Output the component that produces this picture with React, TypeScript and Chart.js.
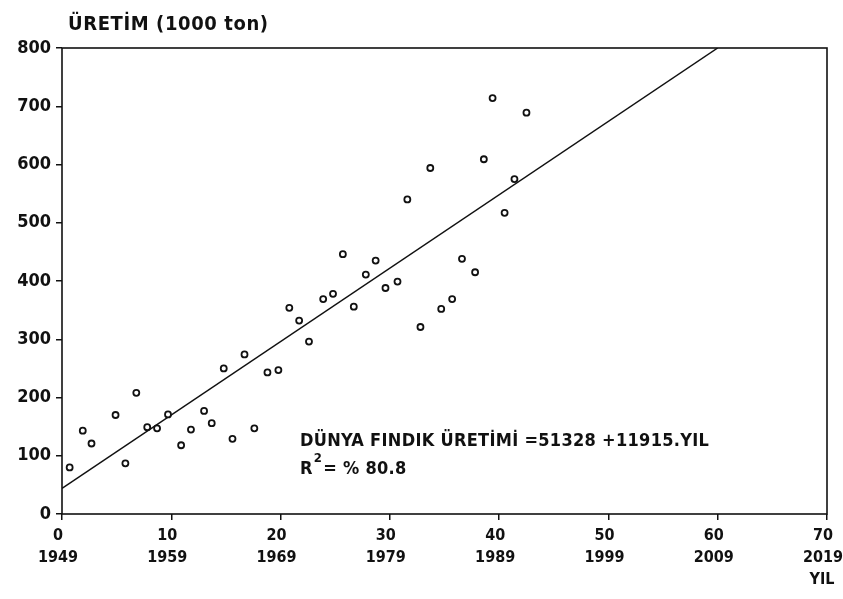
import React, { useEffect, useRef } from "react";
import { Chart, registerables } from "chart.js";

Chart.register(...registerables);

// Years counted from 1949 (x) and world hazelnut production in 1000 tons (y)
const yearIndex = [
  0.7, 1.9, 2.7, 4.9, 5.8, 6.8, 7.8, 8.7, 9.7, 10.9, 11.8, 13.0, 13.7, 14.8,
  15.6, 16.7, 17.6, 18.8, 19.8, 20.8, 21.7, 22.6, 23.9, 24.8, 25.7, 26.7,
  27.8, 28.7, 29.6, 30.7, 31.6, 32.8, 33.7, 34.7, 35.7, 36.6, 37.8, 38.6,
  39.4, 40.5, 41.4, 42.5,
];
const production = [
  80, 143, 121, 170, 87, 208, 149, 147, 171, 118, 145, 177, 156, 250, 129,
  274, 147, 243, 247, 354, 332, 296, 369, 378, 446, 356, 411, 435, 388, 399,
  540, 321, 594, 352, 369, 438, 415, 609, 714, 517, 575, 689,
];

// Fitted trend line as drawn (start and end points)
const trendX = [0, 60];
const trendY = [44, 800];

const xTickTop = ["0", "10", "20", "30", "40", "50", "60", "70"];
const xTickBottom = ["1949", "1959", "1969", "1979", "1989", "1999", "2009", "2019"];
const yTickLabels = ["0", "100", "200", "300", "400", "500", "600", "700", "800"];

const yTitle = "ÜRETİM (1000 ton)";
const xTitle = "YIL";
const eqLine = "DÜNYA FINDIK ÜRETİMİ =51328 +11915.YIL";
const r2Tail = "= % 80.8";

const FONT = "'DejaVu Sans Condensed', 'DejaVu Sans', sans-serif";

const framePlugin = {
  id: "frameAndText",
  afterDraw(chart: any) {
    const { ctx, chartArea } = chart;
    ctx.save();
    ctx.strokeStyle = "#111";
    ctx.lineWidth = 1.6;
    ctx.strokeRect(chartArea.left, chartArea.top, chartArea.right - chartArea.left, chartArea.bottom - chartArea.top);

    ctx.fillStyle = "#111";
    ctx.textBaseline = "alphabetic";
    ctx.textAlign = "left";
    (ctx as any).letterSpacing = "0.6px";
    ctx.font = `bold 20px ${FONT}`;
    ctx.fillText(yTitle, 68, 30);

    (ctx as any).letterSpacing = "0.3px";
    ctx.font = `bold 18px ${FONT}`;
    ctx.fillText(eqLine, 300, 446);
    ctx.fillText("R", 300, 474);
    const rw = ctx.measureText("R").width;
    ctx.font = `bold 13px ${FONT}`;
    ctx.fillText("2", 300 + rw + 1, 462);
    const sw = ctx.measureText("2").width;
    ctx.font = `bold 18px ${FONT}`;
    ctx.fillText(r2Tail, 300 + rw + sw + 2, 474);

    ctx.textAlign = "center";
    (ctx as any).letterSpacing = "0px";
    ctx.font = `bold 16px ${FONT}`;
    ctx.fillText(xTitle, 822, 584);
    ctx.restore();
  },
};

export default function App() {
  const ref = useRef<HTMLCanvasElement | null>(null);

  useEffect(() => {
    if (!ref.current) return;
    const points = yearIndex.map((x, i) => ({ x, y: production[i] }));
    const trend = trendX.map((x, i) => ({ x, y: trendY[i] }));
    const chart = new Chart(ref.current, {
      type: "scatter",
      data: {
        datasets: [
          {
            data: points,
            pointStyle: "circle",
            pointRadius: 3,
            pointBorderWidth: 1.8,
            pointBorderColor: "#111",
            pointBackgroundColor: "#fff",
            showLine: false,
          },
          {
            data: trend,
            showLine: true,
            pointRadius: 0,
            borderColor: "#111",
            borderWidth: 1.5,
          },
        ],
      },
      options: {
        animation: false,
        responsive: false,
        layout: { padding: { top: 48, right: 16, left: 0, bottom: 0 } },
        plugins: { legend: { display: false }, tooltip: { enabled: false } },
        scales: {
          x: {
            type: "linear",
            min: 0,
            max: 70,
            border: { display: false },
            grid: { drawOnChartArea: false, drawTicks: true, tickLength: 6, color: "#111", lineWidth: 1.5 },
            ticks: {
              stepSize: 10,
              color: "#111",
              padding: 4,
              maxRotation: 0,
              labelOffset: -4,
              font: { family: FONT, size: 16, weight: "bold", lineHeight: 1.42 },
              callback: (_v: any, i: number) => [xTickTop[i], xTickBottom[i]],
            },
            afterFit: (s: any) => {
              s.height = 85;
              s.paddingLeft = 0;
              s.paddingRight = 0;
            },
          },
          y: {
            min: 0,
            max: 800,
            border: { display: false },
            grid: { drawOnChartArea: false, drawTicks: true, tickLength: 6, color: "#111", lineWidth: 1.5 },
            ticks: {
              stepSize: 100,
              color: "#111",
              padding: 5,
              font: { family: FONT, size: 18, weight: "bold" },
              callback: (_v: any, i: number) => yTickLabels[i],
            },
            afterFit: (s: any) => {
              s.width = 62;
              s.paddingTop = 0;
              s.paddingBottom = 0;
            },
          },
        },
      },
      plugins: [framePlugin],
    });
    return () => chart.destroy();
  }, []);

  return (
    <div style={{ position: "absolute", left: 0, top: 0, width: 843, height: 599, background: "#fff" }}>
      <canvas ref={ref} width={843} height={599} />
    </div>
  );
}
